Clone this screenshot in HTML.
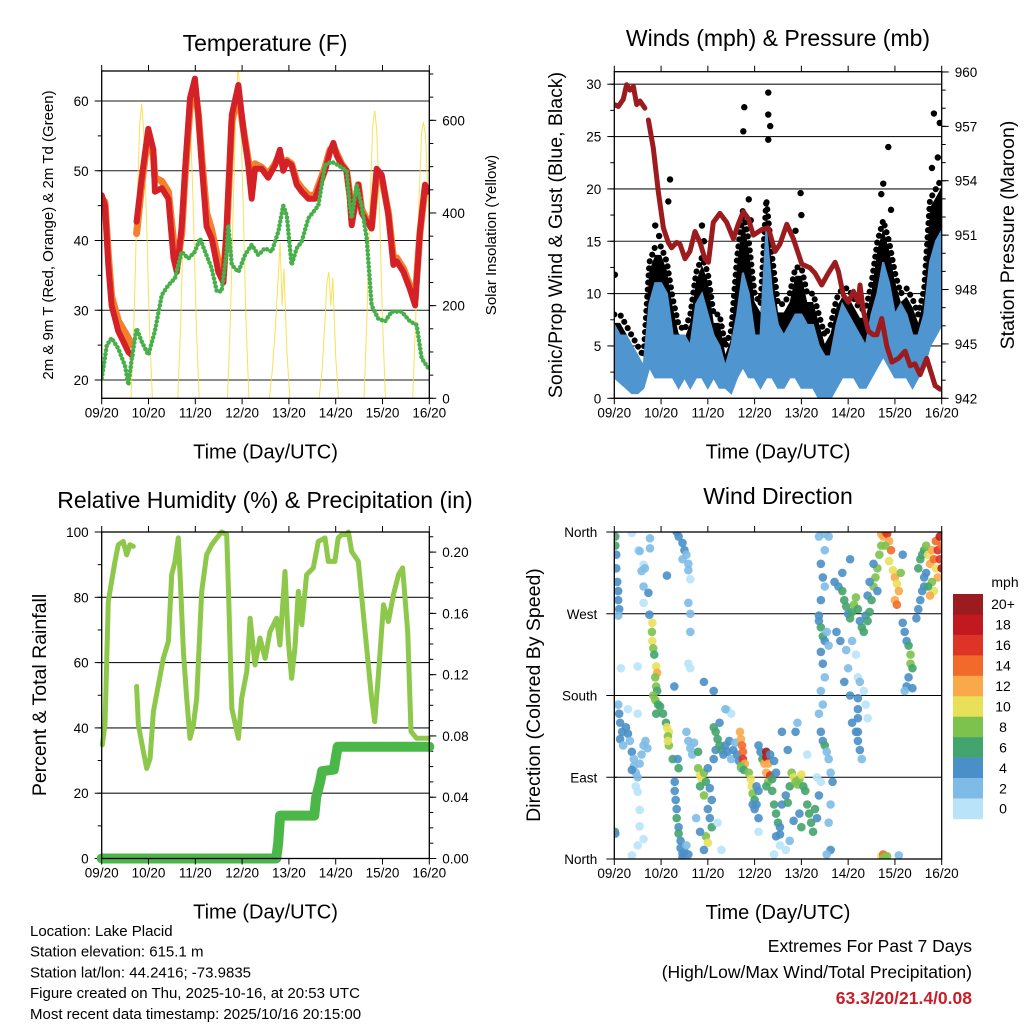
<!DOCTYPE html>
<html><head><meta charset="utf-8"><style>
html,body{margin:0;padding:0;background:#fff;}
svg{display:block;font-family:"Liberation Sans",Arial,sans-serif;}
</style></head><body>
<svg id="c" width="1024" height="1024" viewBox="0 0 1024 1024" xmlns="http://www.w3.org/2000/svg">
<g id="root"></g>
</svg>
<script>
// ---------- shared ----------
var dayTicks = ["09/20","10/20","11/20","12/20","13/20","14/20","15/20","16/20"];
// ---------- temperature ----------
var tempHours = [0,1.7,3.4,5.1,8.5,13.7,15.4,null,17.9,20.5,23.9,26.5,27.3,30.8,34.2,36.8,38.5,41,42.7,45.3,47.8,49.6,51.3,53.8,56.4,59.8,62.4,64.1,66.7,70.1,72.6,75.2,76.9,78.6,82,85.4,88.9,91.4,93.1,94.9,97.4,100,102.6,106,109.4,114.5,117.1,118.8,120.5,123,125.6,127.3,128.2,129.9,131.6,133.3,135.9,138.4,141,143.6,147,149.6,151.3,154.7,158.1,160.7,163.2,165.8,167.5];
var temp2m = [46.5,45,36.5,30.7,27,24,23.6,null,42.7,49,56,53,47,47.5,46,37.5,35.5,42,50,60.4,63.2,58,51,42,40.3,35.5,34,42,58,62.3,56,50.8,46,50.3,50.3,49,50.8,53,50,51.3,50.8,48,47,46,46,50,52.7,54,52.2,50.8,50,46,42.2,45,48,44,42.7,41.7,50.3,49.4,43.6,36.5,37,35.5,33,30.7,41.2,48,47];
var temp9m = [46,45.5,38,32,28.5,26,25,null,41,48,55.5,52,49,48.5,47,40,36,41,49,59,62,58,52,44,41.5,37,35,41,57,61,56,51.5,47,51,50.5,49.5,51,52.5,50.5,51.5,51,48.5,47.5,46.5,46.5,50.5,53,53.5,52.5,51,50,46.5,43,45,48,44.5,43,42,49.5,49,44,37.5,37.5,36,33.5,31.5,41,47.5,47.5];
var tdHours = [0,2.6,5.1,8.5,12,13.7,15.4,17.9,20.5,23.9,27.3,30.8,34.2,37.6,41,44.4,47.8,50.4,53,56.4,59,61.5,64.1,64.9,66.7,70.1,73.5,76.9,80.3,83.7,87.2,90.6,93.1,94.9,97.4,100,102.5,106,111.1,114.5,117.9,121.3,125.6,127.3,128.2,130.7,133.3,135.9,138.4,141.8,145.3,148.7,153.8,158.1,161.5,164.1,167.5];
var dewpoint = [20.2,25,26,24.5,22,19.3,23,27.4,25.5,23.6,27,32.2,33.6,34.6,38.4,37.4,38.4,40.3,38.4,36,32.7,32.7,38.4,42.2,36.5,35.5,37.9,39.4,37.9,38.9,38.4,41.3,45,43.6,36.5,38.9,39.8,43.2,45,50.8,51.3,50.8,50,45,43.2,48,45,40.3,30.7,28.8,28.4,29.8,29.8,28.4,27.9,23.1,21.7];
var solarHours = [0,15,16.5,18,19.5,20.5,21.5,23,24.5,26,39,40.5,42,43.5,44.5,45.5,47,48.5,50,64.5,66,67.5,69,70,71,72.5,74,75.5,86,87.5,89,90.5,91.5,92.5,93.5,95,96.5,111.5,113,114.5,115.5,116.5,117.5,118.5,120,121.5,134.5,136,137.5,139,140,141,142.5,144,145.5,159.5,161,162.5,164,165,166,167.5,168];
var solarVals = [0,0,160,400,590,636,580,380,150,0,0,160,400,600,660,600,400,160,0,0,170,420,650,720,640,420,170,0,0,60,150,260,337,200,280,100,0,0,60,170,250,273,200,260,90,0,0,170,410,590,621,580,400,170,0,0,170,400,570,596,570,420,380];
var tempTicks = [20,30,40,50,60];
var solarTicks = [0,200,400,600];
// ---------- winds ----------
var windHours = [0,3,6,9,12,15,18,21,24,27,30,33,36,39,42,45,48,51,54,57,60,63,66,69,72,75,78,81,84,87,90,93,96,99,102,105,108,111,114,117,120,123,126,129,132,135,138,141,144,147,150,153,156,159,162,165,168];
var windLow = [2,1.5,1,0.5,0.5,1,3,2,2,2,2,1,2,1,2,2,1,2,1,1,0.5,2,3,2,2,1,2,2,1,1,2,2,1,1,1,0,0,0,1,2,2,2,1,1,2,3,4,3,2,2,2,1,2,3,5,6,7];
var windHigh = [7,6,6,5,4,3,9,11,11,10,6,6,6,5,9,10,8,6,5,3,5,8,12,10,6,6,16,10,7,6,7,8,8,7,7,5,4,4,7,9,8,7,6,5,8,10,13,11,8,9,8,6,6,8,13,15,16];
var gustHigh = [8,8,7,6,5,4,13,14.5,14.5,13,9.5,7,6.5,8,12,13.5,12,8,8,5,6.5,13.5,18,15,10,9,19,13.5,9,9,10,12.5,12.5,10,10,8,6,7,9.5,10.5,10.5,9.5,8.5,8.5,11,15,17,15,12,10,10.5,9.5,8,10.5,19,20,21];
var gustDotHours = [0.3,28.6,27.7,66.7,66.2,79,79,80,79,95.6,140.6,164,167,21,23,45,46,69,70,93,96,137,138,142,163,166];
var gustDotVals = [11.8,20.9,18.8,27.8,25.5,29.2,27.1,26,24.7,19.6,24,27.2,26.3,16.5,15.5,16.5,15,19,17,16,17.5,19.5,20.5,18,22,23];
var presHours = [0,2.1,4.6,6.3,8,9.8,11.5,13.2,15.7,null,17.5,20,22.6,25.2,27.7,29.4,32,33.7,36.3,38.8,41.4,44,46.5,48.3,50.8,54.2,57.7,61.1,63.6,66.2,68.8,71.3,75.6,79,82.5,85,88.5,91.9,96.2,100.4,103,106.4,109.8,113.3,115,117.5,120.1,122.7,125.2,126.1,127.8,130.4,132.9,134.7,137.2,139.8,142.4,145.8,149.2,151.8,154.3,156.9,160.3,164.6,167.2];
var presVals = [958.2,958.1,958.5,959.3,959,959.2,958.2,958.4,958.0,null,957.35,955.8,953.4,951.4,950.6,950.3,950.6,950.5,949.7,950.1,951.2,950.6,949.7,949.5,951.7,952.2,951.7,950.8,951.6,952.3,951.9,951.0,951.3,951.4,950.1,950.5,951.6,950.8,949.4,949.2,948.9,948.25,948.9,949.5,949.0,947.7,947.3,947.9,947.3,948.25,946.8,945.7,945.5,945.5,946.4,944.9,944.0,944.2,944.6,943.8,943.9,943.3,944.2,942.7,942.5];
var windTicks = [0,5,10,15,20,25,30];
var presTicks = [942,945,948,951,954,957,960];
// ---------- RH / precip ----------
var rhHours = [0.3,1.7,3.4,5.1,6.8,8.5,11.1,12.8,14.5,16.2,null,17.9,18.8,21.4,23.1,24.8,26.5,29.1,31.6,34.2,35.9,37.6,39.3,40.2,41.9,43.6,45.3,47,48.7,51.3,53.8,56.4,59,61.5,64.1,65,66.7,70.1,71.8,74.4,76.1,78.6,81.2,83.8,86.3,89.7,91.4,94,95.7,97.4,99.1,100.8,102.6,105.1,108.5,111.1,114.5,116.2,119.6,121.3,123,125.6,126.5,128.2,131.6,134.7,138.4,140,141.9,144.5,147,149.6,152.2,154.3,156.9,158.6,161.5,164.1,167.5];
var rhVals = [34.8,41,78.7,84.9,91,96.1,97.1,93,96.1,95.6,null,52.7,40.9,32.7,27.6,30.7,45,53.2,61.3,66.5,86.9,91,98.2,86.9,63.4,49.1,36.8,40.9,49.1,81.8,93,96.1,98.2,100,99.2,81.8,46,36.8,49.1,57.3,73.6,59.3,67.5,61.3,69.5,73.6,65.4,87.9,66.5,55.2,64.4,81.8,71.6,86.9,89,97.1,98.2,91,91,98.2,99.2,99.2,100,94,91,71.6,49.1,41.9,56.2,77.7,72.6,80.8,86.9,89,69.5,38.9,36.8,36.8,36.8];
var precipHours = [0,89.5,90.5,91.5,109,110,112,113,119,121,168];
var precipVals = [0,0,0.01,0.028,0.028,0.04,0.05,0.057,0.058,0.073,0.073];
var rhTicks = [0,20,40,60,80,100];
var precipTicks = [0,0.04,0.08,0.12,0.16,0.20];
// ---------- wind direction ----------
var dirHours = [0.5,0.5,1,1,1.5,2,2,2.5,2,0.3,0.5,9,12.3,13,15,14,15.7,15,17.5,15,18.3,18.3,18,3.4,12,
2,2.5,3,4,3,4.5,6,7,8,9,10,10,11,12,13,14,15,16,9,11,12,13,13,15,12,9,17,7,12,
19.5,19.3,19.5,20,20.5,21.5,22,21,21.5,22,20,21,22.5,23.5,21.5,25,26.5,27,28,27.5,28,27.5,30,30.8,
32,33,35,36,37,35,38,38,39,38,39,39,38,39,27,
31,31,31.5,32,32,33,33,34,34,35,35,36,37,38,33,32.5,
37,38,39,40,41,43,43,44,45,44,46,47,46,48,49,50,48,49,50,47,48,44,42,46,51,53,55,52,
51,52,53,54,55,56,57,58,59,60,61,62,63,64,65,60,58,57,54,51,46,
64.5,65,65.5,66,66,67,65,66.5,
69,70,70.5,71,72,71,73,74,72,74,73,74,
74,75,76,77,78,78,79,78,80,79,78,81,80,82,83,
81,82,83,84,85,85,83,86,88,89,90,91,92,93,94,95,96,97,98,99,100,101,102,103,104,105,104,99,106,92,95,96,89,86,93,94,90,88,85,82,
105,108,110,108,106,107,108,106,105,105,106,107,108,109,110,106,107,108,106,107,105,106,107,108,109,110,111,112,111,110,111,109,
113,115,117,118,119,120,121,122,123,124,125,126,127,128,129,130,117,121,114,116,119,120,122,124,125,126,128,129,130,118,121,122,124,125,126,127,
125,125,125,125,
130,131,132,133,134,135,136,137,133,131,135,
137,138,139,140,141,142,141,143,144,145,146,144,145,139,147,148,
137,138,139,138,140,146,
148,149,150,151,152,152,153,151,150,149,153,155,156,157,158,159,156,157,158,159,
160,161,162,163,164,165,165,166,167,167,168,166,164,163,162,161,168,160,159];
var dirDegrees = [355,345,335,320,305,295,285,275,268,30,28,359,340,339,324,317,320,300,293,282,353,342,269,210,212,
170,160,150,140,132,125,145,138,130,118,110,102,95,90,105,115,125,130,98,80,74,54,36,22,15,4,122,165,160,
260,250,240,232,225,212,205,200,190,185,180,175,170,168,160,160,150,145,140,135,125,130,110,190,
360,355,348,340,335,330,325,318,308,282,270,250,215,210,312,
85,75,65,55,45,35,28,20,12,6,2,8,15,5,100,110,
140,130,122,115,128,118,100,92,88,80,95,85,70,100,78,65,55,45,35,25,18,30,45,10,110,40,10,120,
145,140,132,125,120,115,125,118,130,110,120,128,115,108,100,160,164,165,150,185,195,
140,132,125,118,110,105,102,98,
95,88,80,72,65,60,80,75,55,45,60,30,
125,118,110,105,118,112,105,95,92,85,80,88,115,108,95,
75,60,50,40,35,27,25,60,70,62,80,95,90,85,82,88,93,80,75,60,50,40,30,55,45,70,90,115,85,42,50,35,120,140,140,150,20,10,15,5,
355,358,355,340,325,310,300,285,268,262,255,245,240,250,235,228,215,200,185,170,160,140,130,125,118,110,95,85,60,40,10,5,
305,300,295,285,278,270,265,272,280,288,275,262,255,250,268,290,315,330,250,240,230,210,240,225,200,195,185,170,155,195,180,150,140,130,120,110,
177,165,155,140,
262,272,285,300,310,320,335,345,325,305,295,
358,355,360,358,350,340,328,318,310,303,295,285,280,345,315,335,
3,5,2,1,3,4,
260,250,240,235,225,215,210,200,190,185,188,265,275,285,295,300,320,330,335,340,
345,335,325,340,330,320,350,340,355,330,345,310,295,305,290,300,320,315,310];
var dirSpeeds = [6,6,4,4,4,4,4,4,2,6,4,0,0,2,0,2,2,2,4,0,2,2,4,0,0,
2,4,4,4,4,2,4,4,2,4,2,2,2,2,2,2,2,2,4,0,0,0,0,0,0,0,2,0,0,
10,8,10,8,6,10,12,8,8,6,8,8,6,6,6,6,6,10,10,8,8,10,6,4,
4,4,4,4,2,2,2,2,0,2,2,2,0,0,4,
4,4,4,4,6,4,6,4,4,4,4,4,2,4,6,4,
2,2,2,2,2,6,8,10,10,6,8,6,8,4,4,4,4,4,6,8,10,4,2,4,4,0,0,4,
6,6,6,6,6,4,4,4,4,2,4,2,4,4,2,0,0,2,4,4,4,
12,12,14,14,16,12,8,6,
8,10,10,8,6,4,4,4,4,4,4,0,
4,4,6,12,20,18,12,12,16,8,6,6,4,4,4,
6,6,6,6,4,4,4,4,4,6,6,8,10,8,8,8,10,6,6,6,6,6,6,6,4,4,0,0,0,4,4,6,4,4,4,2,2,0,0,0,
2,2,2,2,4,4,2,4,4,4,6,6,4,2,2,4,4,2,2,2,2,4,4,6,2,2,2,4,2,2,4,2,
4,4,6,6,6,4,6,6,8,8,6,4,6,6,4,4,4,4,4,4,2,2,2,0,0,2,0,0,0,4,4,4,4,4,4,2,
4,4,4,4,
6,6,6,8,8,8,8,8,4,4,4,
12,12,14,16,12,14,10,10,12,10,12,12,14,8,8,4,
10,14,12,8,8,2,
4,4,4,6,8,8,6,4,4,2,4,4,4,4,4,4,6,6,6,6,
8,10,12,12,14,10,14,16,18,16,14,12,10,8,12,6,18,4,4];
var dirTickDeg = [0,90,180,270,360];
var dirTickLabels = ["North","East","South","West","North"];
var speedBinLabels = ["0","2","4","6","8","10","12","14","16","18","20+"];
var speedColors = ["#b9e3f9","#7ebbe6","#4a8fc7","#44a46d","#7dc24c","#e9e05a","#f9a94a","#f26a2a","#de3327","#c1191f","#9b1b1e"];

// ---------- rendering ----------
var NS = "http://www.w3.org/2000/svg";
var root = document.getElementById('root');
function mk(tag, attrs, parent, txt){
  var e = document.createElementNS(NS, tag);
  for (var k in attrs) e.setAttribute(k, attrs[k]);
  if (txt !== undefined) e.textContent = txt;
  (parent || root).appendChild(e);
  return e;
}
function grp(name){
  var g = mk('g', {});
  
  
  return g;
}
function linePath(xs, ys, fx, fy){
  var d = "", pen = false;
  for (var i = 0; i < xs.length; i++){
    if (xs[i] === null || ys[i] === null){ pen = false; continue; }
    d += (pen ? "L" : "M") + fx(xs[i]).toFixed(1) + "," + fy(ys[i]).toFixed(1);
    pen = true;
  }
  return d;
}
function bandPath(xs, lo, hi, fx, fy){
  var d = "";
  for (var i = 0; i < xs.length; i++) d += (i ? "L" : "M") + fx(xs[i]).toFixed(1) + "," + fy(hi[i]).toFixed(1);
  for (var j = xs.length - 1; j >= 0; j--) d += "L" + fx(xs[j]).toFixed(1) + "," + fy(lo[j]).toFixed(1);
  return d + "Z";
}
function makePanel(id, x0, x1, yt, yb){
  var p = {x0:x0, x1:x1, yt:yt, yb:yb};
  p.fx = function(h){ return x0 + h / 168 * (x1 - x0); };
  var cp = mk('clipPath', {id:'clip' + id});
  mk('rect', {x:x0, y:yt, width:x1 - x0, height:yb - yt}, cp);
  return p;
}
function frame(p, g){
  var f = mk('rect', {x:p.x0, y:p.yt, width:p.x1 - p.x0, height:p.yb - p.yt, fill:'none', stroke:'#000', 'stroke-width':1.3}, g);
  
  
}
function xAxis(p, g){
  for (var i = 0; i < dayTicks.length; i++){
    var x = p.fx(i * 24);
    mk('line', {x1:x, x2:x, y1:p.yb, y2:p.yb + 6, stroke:'#000', 'stroke-width':1}, g);
    mk('line', {x1:x, x2:x, y1:p.yt - 6, y2:p.yt, stroke:'#000', 'stroke-width':1}, g);
    var t = mk('text', {x:x, y:p.yb + 19, 'font-size':13.5, 'text-anchor':'middle'}, g, dayTicks[i]);
    
    
  }
  var tt = mk('text', {x:(p.x0 + p.x1) / 2, y:p.yb + 60, 'font-size':20, 'text-anchor':'middle'}, g, 'Time (Day/UTC)');
  
  
}
function yAxis(p, g, ticks, labels, fy, side, minorStep, lo, hi, grid, fs){
  var x = side === 'left' ? p.x0 : p.x1, s = side === 'left' ? -1 : 1;
  for (var i = 0; i < ticks.length; i++){
    var y = fy(ticks[i]);
    if (grid) mk('line', {x1:p.x0, x2:p.x1, y1:y, y2:y, stroke:'#000', 'stroke-width':1.1, 'stroke-opacity':0.9}, g);
    mk('line', {x1:x, x2:x + s * 7, y1:y, y2:y, stroke:'#000', 'stroke-width':1}, g);
    var t = mk('text', {x:x + s * 13, y:y + 5, 'font-size':fs || 13.5, 'text-anchor':side === 'left' ? 'end' : 'start'}, g, labels[i]);
    
    
  }
  if (minorStep){
    for (var v = lo; v <= hi + 1e-9; v += minorStep){
      var yy = fy(v);
      if (yy < p.yt - 0.5 || yy > p.yb + 0.5) continue;
      mk('line', {x1:x, x2:x + s * 4, y1:yy, y2:yy, stroke:'#000', 'stroke-width':1}, g);
    }
  }
}
function vTitle(x, y, txt, fs, g, name){
  var t = mk('text', {x:x, y:y, 'font-size':fs, 'text-anchor':'middle', transform:'rotate(-90 ' + x + ' ' + y + ')'}, g, txt);
  
  
}
function title(x, y, txt, g){
  var t = mk('text', {x:x, y:y, 'font-size':23, 'text-anchor':'middle'}, g, txt);
  
  
}

// ===== Panel 1: temperature =====
(function(){
  var g = grp('temperature-panel');
  var p = makePanel('1', 101.7, 429.3, 71, 398.3);
  var fyT = function(t){ return 380 - (t - 20) * 6.975; };
  var fyS = function(w){ return 398.3 - w * 0.4633; };
  yAxis(p, g, tempTicks, tempTicks.map(String), fyT, 'left', 5, 20, 65, true);
  yAxis(p, g, solarTicks, solarTicks.map(String), fyS, 'right', 50, 0, 700, false);
  var c = mk('g', {'clip-path':'url(#clip1)'}, g);
  var s = mk('path', {d:linePath(solarHours, solarVals, p.fx, fyS), fill:'none', stroke:'#f7dc3c', 'stroke-width':1, 'stroke-opacity':0.85}, c);
  
  
  var o = mk('path', {d:linePath(tempHours, temp9m, p.fx, fyT), fill:'none', stroke:'#f47f2d', 'stroke-width':7, 'stroke-linejoin':'round', 'stroke-linecap':'round'}, c);
  
  
  var r = mk('path', {d:linePath(tempHours, temp2m, p.fx, fyT), fill:'none', stroke:'#d42027', 'stroke-width':6, 'stroke-linejoin':'round', 'stroke-linecap':'round'}, c);
  
  
  var d = mk('path', {d:linePath(tdHours, dewpoint, p.fx, fyT), fill:'none', stroke:'#48b04a', 'stroke-width':4.5, 'stroke-linejoin':'round', 'stroke-linecap':'round', 'stroke-dasharray':'0.1 4'}, c);
  
  
  frame(p, g); xAxis(p, g);
  title(265, 51, 'Temperature (F)', g);
  vTitle(53, 235, '2m & 9m T (Red, Orange) & 2m Td (Green)', 15, g, 'left-y-axis-title');
  vTitle(496, 235, 'Solar Insolation (Yellow)', 15, g, 'right-y-axis-title');
})();

// ===== Panel 2: winds =====
(function(){
  var g = grp('winds-pressure-panel');
  var p = makePanel('2', 614.3, 941.7, 71.7, 398.3);
  var fyW = function(w){ return 398.3 - w * 10.47; };
  var fyP = function(v){ return 398.3 - (v - 942) * 18.13; };
  yAxis(p, g, windTicks, windTicks.map(String), fyW, 'left', 2.5, 0, 31, true);
  yAxis(p, g, presTicks, presTicks.map(String), fyP, 'right', 1, 942, 960, false);
  var c = mk('g', {'clip-path':'url(#clip2)'}, g);
  var gb = mk('path', {d:bandPath(windHours, windLow, gustHigh.map(function(v){ return v - 0.8; }), p.fx, fyW), fill:'#000'}, c);
  
  
  var ge = mk('path', {d:linePath(windHours, gustHigh, p.fx, fyW), fill:'none', stroke:'#000', 'stroke-width':6, 'stroke-linecap':'round', 'stroke-dasharray':'0.1 7'}, c);
  
  
  for (var i = 0; i < gustDotHours.length; i++){
    var dt = mk('circle', {cx:p.fx(gustDotHours[i]), cy:fyW(gustDotVals[i]), r:3.2, fill:'#000'}, c);
    
    
  }
  var bb = mk('path', {d:bandPath(windHours, windLow, windHigh, p.fx, fyW), fill:'#4f95cf', stroke:'#4f95cf', 'stroke-width':2}, c);
  
  
  var pr = mk('path', {d:linePath(presHours, presVals, p.fx, fyP), fill:'none', stroke:'#9b1b1e', 'stroke-width':5, 'stroke-linejoin':'round', 'stroke-linecap':'round'}, c);
  
  
  frame(p, g); xAxis(p, g);
  title(778, 46, 'Winds (mph) & Pressure (mb)', g);
  vTitle(562, 235, 'Sonic/Prop Wind & Gust (Blue, Black)', 19.5, g, 'left-y-axis-title');
  vTitle(1014, 235, 'Station Pressure (Maroon)', 19.5, g, 'right-y-axis-title');
})();

// ===== Panel 3: RH & precip =====
(function(){
  var g = grp('humidity-precip-panel');
  var p = makePanel('3', 101.7, 429.3, 532, 858.5);
  var fyR = function(r){ return 858.5 - r * 3.265; };
  var fyQ = function(v){ return 858.5 - v * 1532; };
  yAxis(p, g, rhTicks, rhTicks.map(String), fyR, 'left', 10, 0, 100, true);
  yAxis(p, g, precipTicks, precipTicks.map(function(v){ return v.toFixed(2); }), fyQ, 'right', 0.01, 0, 0.21, false);
  var rh = mk('path', {d:linePath(rhHours, rhVals, p.fx, fyR), fill:'none', stroke:'#8dc84b', 'stroke-width':5, 'stroke-linejoin':'round', 'stroke-linecap':'round'}, g);
  
  
  var pc = mk('path', {d:linePath(precipHours, precipVals, p.fx, fyQ), fill:'none', stroke:'#4ab748', 'stroke-width':10, 'stroke-linejoin':'round', 'stroke-linecap':'round'}, g);
  
  
  frame(p, g); xAxis(p, g);
  title(265, 508, 'Relative Humidity (%) & Precipitation (in)', g);
  vTitle(46, 695, 'Percent & Total Rainfall', 19.5, g, 'left-y-axis-title');
})();

// ===== Panel 4: wind direction =====
(function(){
  var g = grp('wind-direction-panel');
  var p = makePanel('4', 614.3, 941.7, 532, 859);
  var fyD = function(d){ return 859 - d / 360 * 327; };
  for (var i = 0; i < dirTickDeg.length; i++){
    var y = fyD(dirTickDeg[i]);
    mk('line', {x1:p.x0, x2:p.x1, y1:y, y2:y, stroke:'#000', 'stroke-width':1.1}, g);
    mk('line', {x1:p.x0 - 8, x2:p.x0 + 3, y1:y, y2:y, stroke:'#000', 'stroke-width':1}, g);
    var t = mk('text', {x:p.x0 - 17, y:y + 5, 'font-size':13.5, 'text-anchor':'end'}, g, dirTickLabels[i]);
    
    
  }
  var c = mk('g', {'clip-path':'url(#clip4)'}, g);
  for (var j = 0; j < dirHours.length; j++){
    var bin = Math.min(Math.floor(dirSpeeds[j] / 2), 10);
    var dot = mk('circle', {cx:p.fx(dirHours[j]), cy:fyD(dirDegrees[j]), r:4.3, fill:speedColors[bin], 'fill-opacity':0.9}, c);
    
    
  }
  frame(p, g); xAxis(p, g);
  title(778, 504, 'Wind Direction', g);
  vTitle(540, 695, 'Direction (Colored By Speed)', 19.5, g, 'left-y-axis-title');
  var cb = grp('speed-colorbar');
  var top = 594, bh = 20.45;
  for (var k = 0; k < speedColors.length; k++){
    var idx = speedColors.length - 1 - k;
    var r = mk('rect', {x:953, y:top + k * bh, width:30, height:bh + 0.3, fill:speedColors[idx]}, cb);
    
    
    var tl = mk('text', {x:1003, y:top + k * bh + bh / 2 + 5, 'font-size':14, 'text-anchor':'middle'}, cb, speedBinLabels[idx]);
    
    
  }
  var u = mk('text', {x:1005, y:587, 'font-size':14, 'text-anchor':'middle'}, cb, 'mph');
  
  
})();

// ===== footer =====
(function(){
  var g = grp('station-info');
  var lines = ["Location: Lake Placid","Station elevation: 615.1 m","Station lat/lon: 44.2416; -73.9835","Figure created on Thu, 2025-10-16, at 20:53 UTC","Most recent data timestamp: 2025/10/16 20:15:00"];
  for (var i = 0; i < lines.length; i++){
    var t = mk('text', {x:30, y:936 + i * 20.7, 'font-size':15}, g, lines[i]);
    
    
  }
  var e = grp('extremes-summary');
  var a = mk('text', {x:972, y:952, 'font-size':17.5, 'text-anchor':'end'}, e, 'Extremes For Past 7 Days');
  
  
  var b = mk('text', {x:972, y:978, 'font-size':17.5, 'text-anchor':'end'}, e, '(High/Low/Max Wind/Total Precipitation)');
  
  
  var v = mk('text', {x:972, y:1004, 'font-size':17.5, 'font-weight':'bold', fill:'#c8202a', 'text-anchor':'end'}, e, '63.3/20/21.4/0.08');
  
  
})();
</script>
</body></html>
